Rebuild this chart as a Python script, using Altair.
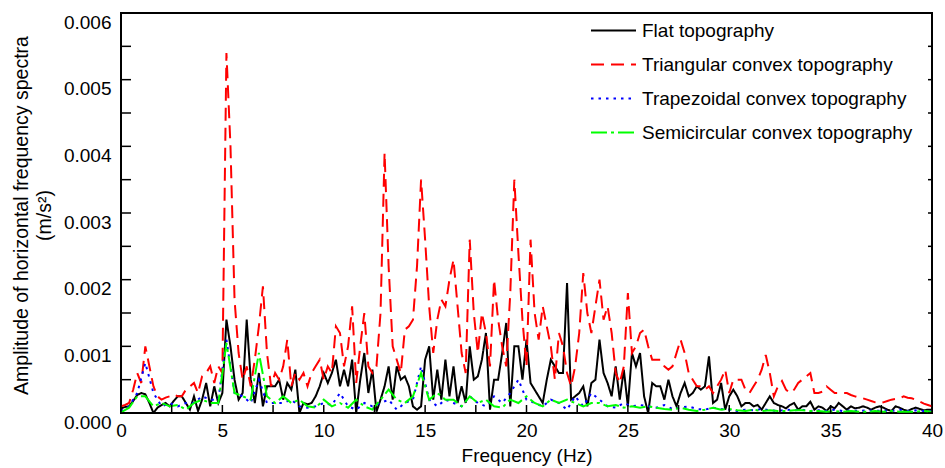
import altair as alt
import pandas as pd

# ---------------- data (amplitudes in units of 1e-4 m/s^2) ----------------
series_names = [
    "Flat topography",
    "Triangular convex topography",
    "Trapezoidal convex topography",
    "Semicircular convex topography",
]
series_colors = ["#000000", "#ff0000", "#0000ff", "#00ff00"]
series_dashes = [[1, 0], [13, 7], [2.5, 5], [16, 4, 3, 4]]

freq_fine = [round(0.2 * i, 1) for i in range(201)]     # 0 .. 40 Hz, 0.2 Hz step
freq_coarse = [round(0.4 * i, 1) for i in range(101)]   # 0 .. 40 Hz, 0.4 Hz step

flat = [
    0.7, 0.9, 1.0, 1.8, 2.7, 3.0, 2.8, 1.5, 0.0, 0.8,
    1.2, 1.5, 1.0, 1.8, 2.5, 2.5, 1.5, 0.5, 2.5, 0.3,
    2.0, 4.5, 1.0, 4.0, 1.5, 3.0, 14.0, 10.0, 5.0, 2.0,
    3.0, 14.0, 5.0, 1.5, 6.0, 1.0, 4.0, 4.0, 4.0, 5.0,
    2.0, 4.5, 3.5, 6.5, 0.0, 1.5, 1.3, 1.5, 2.5, 4.0,
    6.0, 4.5, 6.0, 8.0, 4.0, 6.5, 4.0, 8.0, 0.0, 5.0,
    9.0, 3.0, 6.5, 0.2, 2.0, 4.0, 7.0, 2.0, 7.0, 5.0,
    5.5, 4.0, 1.0, 0.5, 1.0, 8.0, 10.0, 2.0, 6.5, 2.0,
    8.0, 2.5, 7.0, 1.5, 4.0, 1.5, 10.0, 5.0, 5.5, 8.0,
    12.0, 0.5, 5.0, 5.0, 9.0, 13.5, 1.0, 10.0, 10.0, 5.0,
    11.0, 4.5, 3.5, 2.5, 1.5, 5.0, 8.0, 7.0, 6.0, 6.0,
    19.5, 2.0, 2.5, 3.0, 4.0, 1.0, 4.5, 5.0, 11.0, 6.0,
    4.5, 2.5, 7.0, 2.0, 6.5, 1.0, 9.0, 7.0, 9.0, 2.5,
    0.0, 4.5, 4.0, 4.0, 2.0, 5.0, 2.5, 1.0, 3.0, 4.5,
    2.5, 3.0, 4.0, 3.5, 4.0, 8.5, 1.5, 2.0, 4.5, 0.5,
    2.5, 3.5, 2.5, 1.0, 1.5, 1.5, 1.0, 1.2, 0.5, 1.5,
    2.5, 1.5, 1.2, 1.0, 0.7, 1.2, 1.5, 0.5, 1.0, 1.0,
    1.7, 0.5, 1.0, 0.8, 0.3, 1.0, 0.7, 1.5, 1.0, 0.5,
    1.0, 0.7, 0.8, 1.0, 0.8, 0.5, 0.8, 1.0, 0.8, 0.5,
    0.3, 1.0, 0.8, 0.5, 0.3, 0.6, 0.8, 0.6, 0.4, 0.5,
    0.5,
]

triangular = [
    1.0, 1.2, 1.5, 3.5, 6.0, 4.5, 10.0, 7.0, 4.0, 2.5,
    2.0, 2.3, 2.5, 2.8, 2.5, 2.5, 3.5, 4.0, 4.5, 3.0,
    5.5, 6.0, 7.0, 4.5, 7.0, 6.0, 54.0, 40.0, 17.0, 9.0,
    5.0, 7.0, 4.0, 8.0, 13.0, 19.0, 9.0, 4.0, 6.0, 5.0,
    7.0, 11.0, 4.0, 6.0, 5.0, 6.0, 4.0, 6.0, 7.0, 8.0,
    5.0, 7.0, 6.0, 13.0, 12.0, 7.0, 10.0, 16.0, 4.5, 10.0,
    15.0, 7.0, 6.0, 7.0, 15.0, 39.0, 22.0, 10.0, 8.0, 6.0,
    12.5, 13.0, 14.0, 22.0, 35.0, 26.0, 16.0, 9.0, 14.0, 17.0,
    16.0, 20.0, 23.0, 16.0, 9.0, 6.0, 26.0, 15.0, 9.0, 15.0,
    12.0, 7.0, 20.0, 14.0, 10.0, 7.0, 18.0, 35.0, 24.0, 14.0,
    7.0, 26.0, 15.0, 11.0, 16.0, 13.0, 10.0, 5.0, 12.0, 10.0,
    6.0, 4.0, 7.0, 12.0, 21.0, 15.0, 12.0, 16.0, 20.0, 14.0,
    16.0, 12.0, 6.0, 4.5, 7.0, 18.0, 9.0, 10.0, 12.0, 12.5,
    10.0, 8.0, 8.0, 8.0, 7.0, 6.5, 7.0, 9.0, 11.0, 9.0,
    6.0, 5.0, 4.0, 4.0, 3.5, 4.0, 3.0, 4.0, 5.0, 6.5,
    3.0, 5.0, 5.0, 5.0, 3.5, 3.0, 4.0, 5.0, 6.5, 8.7,
    6.0, 2.5, 4.0, 4.8, 3.5, 3.0, 3.5, 4.5, 5.0, 5.5,
    6.0, 3.0, 3.0, 3.2, 4.0, 3.5, 3.0, 3.0, 3.0, 3.0,
    2.7, 2.5, 2.3, 2.2, 2.0, 1.8, 1.6, 1.5, 1.6, 1.8,
    2.0, 2.1, 2.2, 2.5, 2.3, 2.2, 2.0, 1.7, 1.4, 1.2,
    1.0,
]

trapezoidal = [
    0.3, 1.0, 3.0, 7.5, 3.0, 1.0, 1.5, 1.0, 1.5, 1.5,
    2.5, 2.0, 2.0, 11.0, 3.0, 2.5, 1.5, 5.0, 1.5, 1.5,
    1.5, 2.0, 1.0, 0.8, 1.0, 1.5, 1.2, 3.0, 1.0, 0.5,
    1.5, 1.0, 1.5, 2.0, 0.5, 1.5, 2.0, 7.0, 2.0, 1.0,
    2.0, 1.5, 1.0, 2.5, 1.5, 1.0, 2.5, 1.5, 3.0, 5.0,
    2.0, 1.5, 1.0, 2.0, 1.5, 0.5, 2.5, 1.0, 3.0, 2.0,
    1.0, 0.8, 1.5, 1.0, 1.2, 1.0, 0.8, 1.2, 0.6, 0.8,
    1.0, 0.6, 0.5, 0.8, 0.6, 0.5, 0.3, 0.5, 0.4, 0.6,
    0.4, 0.3, 0.5, 0.4, 0.5, 0.3, 0.4, 0.3, 0.5, 0.3,
    0.4, 0.3, 0.4, 0.3, 0.4, 0.3, 0.5, 0.3, 0.4, 0.3,
    0.3,
]

semicircular = [
    0.1, 0.8, 2.5, 2.5, 1.0, 1.5, 1.0, 1.2, 0.5, 1.5,
    2.0, 1.5, 1.5, 10.5, 3.0, 2.5, 2.0, 9.0, 2.5, 1.5,
    2.5, 1.5, 2.0, 1.0, 0.8, 2.0, 1.0, 1.5, 0.8, 2.0,
    1.0, 0.5, 2.0, 3.5, 2.0, 1.5, 2.5, 6.0, 2.0, 3.0,
    2.0, 2.0, 1.0, 2.5, 1.5, 2.0, 1.0, 0.8, 2.0, 1.5,
    2.5, 1.5, 1.0, 2.0, 1.5, 2.0, 1.5, 1.0, 1.5, 1.5,
    1.0, 1.2, 0.8, 1.0, 0.8, 1.0, 0.8, 0.6, 0.5, 0.8,
    0.5, 0.3, 0.5, 0.8, 0.5, 0.6, 0.4, 0.3, 0.5, 0.3,
    0.4, 0.3, 0.3, 0.4, 0.4, 0.3, 0.3, 0.2, 0.3, 0.2,
    0.3, 0.2, 0.2, 0.3, 0.2, 0.3, 0.2, 0.2, 0.2, 0.3,
    0.2,
]
UNIT = 1e-4

x_label_values = [0, 5, 10, 15, 20, 25, 30, 35, 40]
y_label_values = [0.0, 0.001, 0.002, 0.003, 0.004, 0.005, 0.006]
x_tick_values = [2.5 * i for i in range(17)]
y_tick_values = [0.0005 * i for i in range(13)]

# ---------------- build table ----------------
rows = []
for k, (name, fr, vals) in enumerate(zip(
        series_names,
        [freq_fine, freq_fine, freq_coarse, freq_coarse],
        [flat, triangular, trapezoidal, semicircular])):
    for f, v in zip(fr, vals):
        rows.append({"series": name, "freq": f, "amp": v * UNIT, "k": k})
df = pd.DataFrame(rows)

FONT = "Liberation Sans"
W, H = 811, 400

xscale = alt.Scale(domain=[0, 40], nice=False, zero=False)
yscale = alt.Scale(domain=[0, 0.006], nice=False)

xaxis = alt.Axis(
    title="Frequency (Hz)", values=x_label_values, format="d",
    labelPadding=8, titlePadding=6, labelFlush=False)
yaxis = alt.Axis(
    title=["Amplitude of horizontal frequency spectra", "(m/s²)"],
    values=y_label_values, format=".3f", labelPadding=10,
    labelBaseline="alphabetic", labelOffset=15, labelFlush=False,
    titleX=-90, titleY=H / 2 + 2, titleAngle=-90, titleAlign="center",
    titleBaseline="bottom", titleLineHeight=23, titleFontSize=19.5)

legend = alt.Legend(
    title=None, orient="none", legendX=469, legendY=-6,
    symbolType="stroke", symbolSize=2025, symbolStrokeWidth=2,
    labelFontSize=19, labelFont=FONT, labelColor="black",
    labelOffset=5, rowPadding=-33, padding=0, labelLimit=400,
)

lines = alt.Chart(df).mark_line(strokeWidth=2, clip=True).encode(
    x=alt.X("freq:Q", scale=xscale, axis=xaxis),
    y=alt.Y("amp:Q", scale=yscale, axis=yaxis),
    color=alt.Color("series:N", scale=alt.Scale(domain=series_names, range=series_colors),
                    legend=legend),
    strokeDash=alt.StrokeDash("series:N", scale=alt.Scale(domain=series_names, range=series_dashes),
                              legend=legend),
    order="k:Q",
)

ytick_df = pd.DataFrame({"amp": y_tick_values})
xtick_df = pd.DataFrame({"freq": x_tick_values})

left_ticks = alt.Chart(ytick_df).mark_rule(color="black", strokeWidth=1.5).encode(
    y=alt.Y("amp:Q", scale=yscale, axis=yaxis), x=alt.value(0), x2=alt.value(10))
right_ticks = alt.Chart(ytick_df).mark_rule(color="black", strokeWidth=1.5).encode(
    y=alt.Y("amp:Q", scale=yscale, axis=yaxis), x=alt.value(W - 4), x2=alt.value(W))
bottom_ticks = alt.Chart(xtick_df).mark_rule(color="black", strokeWidth=1.5).encode(
    x=alt.X("freq:Q", scale=xscale, axis=xaxis), y=alt.value(H - 8), y2=alt.value(H))

chart = alt.layer(lines, left_ticks, right_ticks, bottom_ticks).properties(
    width=W, height=H,
    background="white",
    autosize=alt.AutoSizeParams(type="none"),
    padding={"left": 121, "top": 13, "right": 13, "bottom": 55},
).configure_view(
    stroke="black", strokeWidth=2,
).configure_axis(
    domain=False, ticks=False, grid=False,
    labelFont=FONT, labelFontSize=19, labelColor="black",
    titleFont=FONT, titleFontSize=19, titleFontWeight="normal", titleColor="black",
)

chart.save("out.html", embed_options={"renderer": "svg", "actions": False})
